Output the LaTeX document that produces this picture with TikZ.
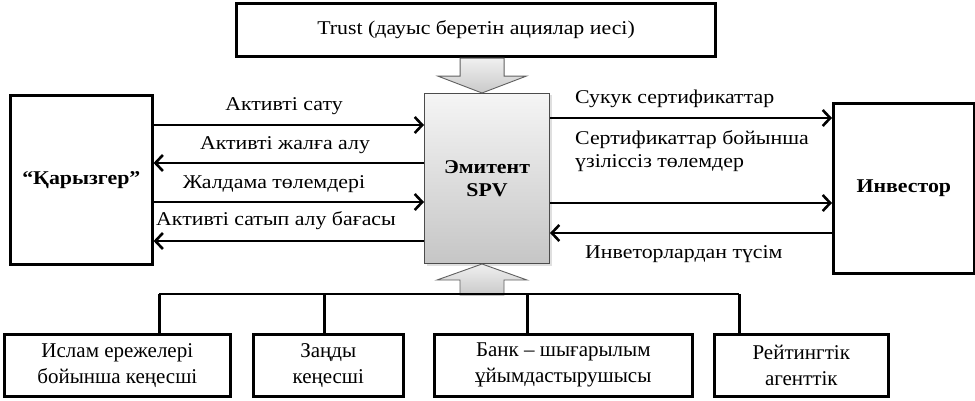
\documentclass[tikz,border=0pt]{standalone}
\usepackage{fontspec}
\setmainfont{Liberation Serif}
\newfontfamily\widefont[FakeStretch=1.12]{Liberation Serif}
\usetikzlibrary{arrows.meta,shadows,calc}
\tikzset{
  box/.style={draw, line width=2.6pt, inner sep=0pt, align=center, font=\widefont\fontsize{19.5}{23}\selectfont, anchor=north west},
  lowbox/.style={box, font=\fontsize{21}{26}\selectfont, minimum height=62pt},
  lbl/.style={inner sep=0pt, font=\widefont\fontsize{19.5}{23}\selectfont},
  boldtext/.style={font=\widefont\fontsize{19.5}{23}\selectfont\bfseries},
  arr/.style={line width=2.6pt, -{Straight Barb[length=7.5pt,width=16pt]}},
  busline/.style={line width=2.4pt},
  blockarrow/.style={top color=gray!12, bottom color=gray!42, draw=gray!75!black, line width=0.9pt},
}
\begin{document}
\begin{tikzpicture}[x=1pt,y=-1pt]
\useasboundingbox (0,0) rectangle (975,401);
% main boxes
\node[box, line width=3.2pt, minimum width=479pt, minimum height=53pt] (trust) at (235,2) {Trust (дауыс беретін ациялар иесі)};
\node[box, boldtext, minimum width=142pt, minimum height=169pt] (kar) at (9,94) {“Қарызгер”};
\node[box, boldtext, minimum width=141pt, minimum height=170pt] (inv) at (832,102) {Инвестор};
\node[box, boldtext, minimum width=125pt, minimum height=170pt,
      draw=gray!60!black, line width=1pt, top color=gray!8, bottom color=gray!45,
      drop shadow={opacity=0.25, shadow xshift=2pt, shadow yshift=-2pt}] (spv) at (424,93) {Эмитент\\SPV};
% bottom boxes
\node[lowbox, minimum width=226pt] (b1) at (3,333) {Ислам ережелері\\бойынша кеңесші};
\node[lowbox, minimum width=150pt] (b2) at (252,333) {Заңды\\кеңесші};
\node[lowbox, minimum width=258pt] (b3) at (433,333) {Банк – шығарылым\\ұйымдастырушысы};
\node[lowbox, minimum width=174pt] (b4) at (713,333) {Рейтингтік\\агенттік};
% block arrows
\shade[blockarrow] ($(trust.south)+(-16,0)$) -- ++(0,18) -- ++(-22,0) -- ($(spv.north)+(-5,0)$) -- ($(trust.south)+(50,18)$) -- ++(-22,0) -- ++(0,-18) -- cycle;
\shade[blockarrow] ($(spv.south)+(-5,0)$) -- ++(45,16) -- ++(-23,0) -- ++(0,15) -- ++(-44,0) -- ++(0,-15) -- ++(-23,0) -- cycle;
% left connectors
\path ([yshift=-31pt]kar.north east) coordinate (a1)
      ([yshift=-69pt]kar.north east) coordinate (a2)
      ([yshift=-108pt]kar.north east) coordinate (a3)
      ([yshift=-147pt]kar.north east) coordinate (a4);
\draw[arr] (a1) -- (a1 -| spv.west);
\draw[arr] (a2 -| spv.west) -- (a2);
\draw[arr] (a3) -- (a3 -| spv.west);
\draw[arr] (a4 -| spv.west) -- (a4);
\node[lbl] (l1) at (284,106) {Активті сату};
\node[lbl] (l2) at (285,145) {Активті жалға алу};
\node[lbl] (l3) at (274,184) {Жалдама төлемдері};
\node[lbl] (l4) at (276,221) {Активті сатып алу бағасы};
% right connectors
\path ([yshift=-25pt]spv.north east) coordinate (c1)
      ([yshift=-110pt]spv.north east) coordinate (c2)
      ([yshift=-140pt]spv.north east) coordinate (c3);
\draw[arr] (c1) -- (c1 -| inv.west);
\draw[arr] (c2) -- (c2 -| inv.west);
\draw[arr] (c3 -| inv.west) -- (c3);
\node[lbl, anchor=west] (r1) at (575,99) {Сукук сертификаттар};
\node[lbl, anchor=west, align=left] (r2) at (575,151) {Сертификаттар бойынша\\үзіліссіз төлемдер};
\node[lbl, anchor=west] (r3) at (585,254) {Инветорлардан түсім};
% bus
\coordinate (bus) at (482,294);
\draw[busline] ([xshift=42pt]b1.north) coordinate (d1) -- (d1 |- bus);
\draw[busline] ([xshift=-4pt]b2.north) coordinate (d2) -- (d2 |- bus);
\draw[busline] ([xshift=-36pt]b3.north) coordinate (d3) -- (d3 |- bus);
\draw[busline] ([xshift=-62pt]b4.north) coordinate (d4) -- (d4 |- bus);
\draw[busline] (d1 |- bus) -- (d4 |- bus);
\end{tikzpicture}
\end{document}
